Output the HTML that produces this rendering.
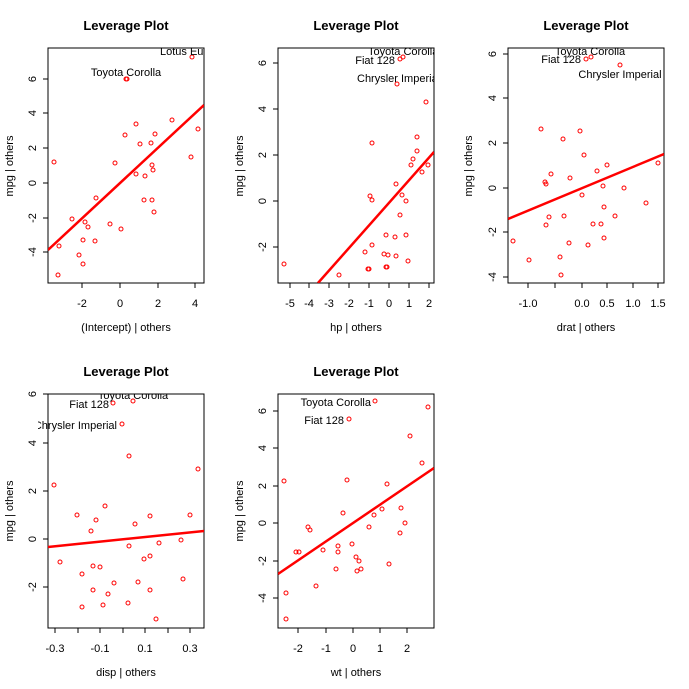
<!DOCTYPE html>
<html><head><meta charset="utf-8"><style>
html,body{margin:0;padding:0;background:#fff}
svg{display:block}
text{font-family:"Liberation Sans",Arial,sans-serif;fill:#000}
.t{font-size:13px;font-weight:bold;text-anchor:middle}
.tk{font-size:11px;text-anchor:middle}
.lb{font-size:11px}
.ax{font-size:11px;text-anchor:middle}
circle{fill:none;stroke:#f00;stroke-width:1}
.ln{stroke:#f00;stroke-width:2.5}
.bx{fill:none;stroke:#000;stroke-width:1}
.tm{stroke:#000;stroke-width:1}
</style></head><body>
<svg width="689" height="689" viewBox="0 0 689 689" xmlns="http://www.w3.org/2000/svg">
<defs>
<clipPath id="c1"><rect x="48" y="48" width="156" height="235"/></clipPath>
<clipPath id="c2"><rect x="278" y="48" width="156" height="235"/></clipPath>
<clipPath id="c3"><rect x="508" y="48" width="156" height="235"/></clipPath>
<clipPath id="c4"><rect x="38" y="394" width="166" height="234"/></clipPath>
<clipPath id="c5"><rect x="278" y="394" width="156" height="234"/></clipPath>
</defs>

<!-- Panel 1 -->
<text class="t" x="126" y="30">Leverage Plot</text>
<rect class="bx" x="48" y="48" width="156" height="235"/>
<g class="tm"><line x1="82" y1="283" x2="82" y2="288"/><line x1="120" y1="283" x2="120" y2="288"/><line x1="158" y1="283" x2="158" y2="288"/><line x1="195" y1="283" x2="195" y2="288"/>
<line x1="43" y1="79" x2="48" y2="79"/><line x1="43" y1="113" x2="48" y2="113"/><line x1="43" y1="148" x2="48" y2="148"/><line x1="43" y1="183" x2="48" y2="183"/><line x1="43" y1="218" x2="48" y2="218"/><line x1="43" y1="252" x2="48" y2="252"/></g>
<text class="tk" x="82" y="307">-2</text><text class="tk" x="120" y="307">0</text><text class="tk" x="158" y="307">2</text><text class="tk" x="195" y="307">4</text>
<g class="tk"><text transform="translate(36,79) rotate(-90)">6</text><text transform="translate(36,113) rotate(-90)">4</text><text transform="translate(36,148) rotate(-90)">2</text><text transform="translate(36,183) rotate(-90)">0</text><text transform="translate(36,218) rotate(-90)">-2</text><text transform="translate(36,252) rotate(-90)">-4</text></g>
<text class="ax" x="126" y="331">(Intercept) | others</text>
<text class="ax" transform="translate(13,166) rotate(-90)">mpg  | others</text>
<g clip-path="url(#c1)">
<line class="ln" x1="48" y1="250" x2="204" y2="105"/>
<circle cx="126" cy="79" r="2"/><circle cx="127" cy="79" r="2"/><circle cx="192" cy="57" r="2"/><circle cx="172" cy="120" r="2"/><circle cx="136" cy="124" r="2"/><circle cx="155" cy="134" r="2"/><circle cx="125" cy="135" r="2"/><circle cx="140" cy="144" r="2"/><circle cx="151" cy="143" r="2"/><circle cx="198" cy="129" r="2"/><circle cx="54" cy="162" r="2"/><circle cx="115" cy="163" r="2"/><circle cx="191" cy="157" r="2"/><circle cx="152" cy="165" r="2"/><circle cx="153" cy="170" r="2"/><circle cx="136" cy="174" r="2"/><circle cx="145" cy="176" r="2"/><circle cx="96" cy="198" r="2"/><circle cx="144" cy="200" r="2"/><circle cx="152" cy="200" r="2"/><circle cx="154" cy="212" r="2"/><circle cx="72" cy="219" r="2"/><circle cx="85" cy="222" r="2"/><circle cx="88" cy="227" r="2"/><circle cx="110" cy="224" r="2"/><circle cx="121" cy="229" r="2"/><circle cx="83" cy="240" r="2"/><circle cx="95" cy="241" r="2"/><circle cx="59" cy="246" r="2"/><circle cx="79" cy="255" r="2"/><circle cx="83" cy="264" r="2"/><circle cx="58" cy="275" r="2"/>
<text class="lb" x="160" y="55">Lotus Europa</text>
</g>
<text class="lb" x="126" y="76" text-anchor="middle">Toyota Corolla</text>

<!-- Panel 2 -->
<text class="t" x="356" y="30">Leverage Plot</text>
<rect class="bx" x="278" y="48" width="156" height="235"/>
<g class="tm"><line x1="290" y1="283" x2="290" y2="288"/><line x1="309" y1="283" x2="309" y2="288"/><line x1="329" y1="283" x2="329" y2="288"/><line x1="349" y1="283" x2="349" y2="288"/><line x1="369" y1="283" x2="369" y2="288"/><line x1="389" y1="283" x2="389" y2="288"/><line x1="409" y1="283" x2="409" y2="288"/><line x1="429" y1="283" x2="429" y2="288"/>
<line x1="273" y1="63" x2="278" y2="63"/><line x1="273" y1="109" x2="278" y2="109"/><line x1="273" y1="155" x2="278" y2="155"/><line x1="273" y1="201" x2="278" y2="201"/><line x1="273" y1="247" x2="278" y2="247"/></g>
<text class="tk" x="290" y="307">-5</text><text class="tk" x="309" y="307">-4</text><text class="tk" x="329" y="307">-3</text><text class="tk" x="349" y="307">-2</text><text class="tk" x="369" y="307">-1</text><text class="tk" x="389" y="307">0</text><text class="tk" x="409" y="307">1</text><text class="tk" x="429" y="307">2</text>
<g class="tk"><text transform="translate(266,63) rotate(-90)">6</text><text transform="translate(266,109) rotate(-90)">4</text><text transform="translate(266,155) rotate(-90)">2</text><text transform="translate(266,201) rotate(-90)">0</text><text transform="translate(266,247) rotate(-90)">-2</text></g>
<text class="ax" x="356" y="331">hp | others</text>
<text class="ax" transform="translate(243,166) rotate(-90)">mpg  | others</text>
<g clip-path="url(#c2)">
<line class="ln" x1="318" y1="283" x2="434" y2="152"/>
<circle cx="400" cy="59" r="2"/><circle cx="403" cy="57" r="2"/><circle cx="397" cy="84" r="2"/><circle cx="426" cy="102" r="2"/><circle cx="417" cy="137" r="2"/><circle cx="372" cy="143" r="2"/><circle cx="417" cy="151" r="2"/><circle cx="413" cy="159" r="2"/><circle cx="411" cy="165" r="2"/><circle cx="428" cy="165" r="2"/><circle cx="422" cy="172" r="2"/><circle cx="396" cy="184" r="2"/><circle cx="370" cy="196" r="2"/><circle cx="372" cy="200" r="2"/><circle cx="402" cy="195" r="2"/><circle cx="406" cy="201" r="2"/><circle cx="400" cy="215" r="2"/><circle cx="386" cy="235" r="2"/><circle cx="406" cy="235" r="2"/><circle cx="395" cy="237" r="2"/><circle cx="372" cy="245" r="2"/><circle cx="365" cy="252" r="2"/><circle cx="384" cy="254" r="2"/><circle cx="388" cy="255" r="2"/><circle cx="396" cy="256" r="2"/><circle cx="408" cy="261" r="2"/><circle cx="386" cy="267" r="2"/><circle cx="387" cy="267" r="2"/><circle cx="368" cy="269" r="2"/><circle cx="369" cy="269" r="2"/><circle cx="284" cy="264" r="2"/><circle cx="339" cy="275" r="2"/>
<text class="lb" x="368" y="55">Toyota Corolla</text>
<text class="lb" x="357" y="82">Chrysler Imperial</text>
</g>
<text class="lb" x="395" y="64" text-anchor="end">Fiat 128</text>

<!-- Panel 3 -->
<text class="t" x="586" y="30">Leverage Plot</text>
<rect class="bx" x="508" y="48" width="156" height="235"/>
<g class="tm"><line x1="528" y1="283" x2="528" y2="288"/><line x1="555" y1="283" x2="555" y2="288"/><line x1="582" y1="283" x2="582" y2="288"/><line x1="607" y1="283" x2="607" y2="288"/><line x1="633" y1="283" x2="633" y2="288"/><line x1="658" y1="283" x2="658" y2="288"/>
<line x1="503" y1="54" x2="508" y2="54"/><line x1="503" y1="98" x2="508" y2="98"/><line x1="503" y1="143" x2="508" y2="143"/><line x1="503" y1="188" x2="508" y2="188"/><line x1="503" y1="232" x2="508" y2="232"/><line x1="503" y1="277" x2="508" y2="277"/></g>
<text class="tk" x="528" y="307">-1.0</text><text class="tk" x="582" y="307">0.0</text><text class="tk" x="607" y="307">0.5</text><text class="tk" x="633" y="307">1.0</text><text class="tk" x="658" y="307">1.5</text>
<g class="tk"><text transform="translate(496,54) rotate(-90)">6</text><text transform="translate(496,98) rotate(-90)">4</text><text transform="translate(496,143) rotate(-90)">2</text><text transform="translate(496,188) rotate(-90)">0</text><text transform="translate(496,232) rotate(-90)">-2</text><text transform="translate(496,277) rotate(-90)">-4</text></g>
<text class="ax" x="586" y="331">drat | others</text>
<text class="ax" transform="translate(472,166) rotate(-90)">mpg  | others</text>
<g clip-path="url(#c3)">
<line class="ln" x1="508" y1="219" x2="664" y2="154"/>
<circle cx="586" cy="59" r="2"/><circle cx="591" cy="57" r="2"/><circle cx="620" cy="65" r="2"/><circle cx="541" cy="129" r="2"/><circle cx="580" cy="131" r="2"/><circle cx="563" cy="139" r="2"/><circle cx="584" cy="155" r="2"/><circle cx="607" cy="165" r="2"/><circle cx="658" cy="163" r="2"/><circle cx="597" cy="171" r="2"/><circle cx="551" cy="174" r="2"/><circle cx="570" cy="178" r="2"/><circle cx="545" cy="182" r="2"/><circle cx="546" cy="184" r="2"/><circle cx="603" cy="186" r="2"/><circle cx="624" cy="188" r="2"/><circle cx="582" cy="195" r="2"/><circle cx="646" cy="203" r="2"/><circle cx="604" cy="207" r="2"/><circle cx="549" cy="217" r="2"/><circle cx="564" cy="216" r="2"/><circle cx="615" cy="216" r="2"/><circle cx="546" cy="225" r="2"/><circle cx="593" cy="224" r="2"/><circle cx="601" cy="224" r="2"/><circle cx="604" cy="238" r="2"/><circle cx="513" cy="241" r="2"/><circle cx="569" cy="243" r="2"/><circle cx="588" cy="245" r="2"/><circle cx="560" cy="257" r="2"/><circle cx="529" cy="260" r="2"/><circle cx="561" cy="275" r="2"/>
<text class="lb" x="590" y="55" text-anchor="middle">Toyota Corolla</text>
</g>
<text class="lb" x="581" y="63" text-anchor="end">Fiat 128</text>
<text class="lb" x="620" y="78" text-anchor="middle">Chrysler Imperial</text>

<!-- Panel 4 -->
<text class="t" x="126" y="376">Leverage Plot</text>
<rect class="bx" x="48" y="394" width="156" height="234"/>
<g class="tm"><line x1="55" y1="628" x2="55" y2="633"/><line x1="78" y1="628" x2="78" y2="633"/><line x1="100" y1="628" x2="100" y2="633"/><line x1="123" y1="628" x2="123" y2="633"/><line x1="145" y1="628" x2="145" y2="633"/><line x1="168" y1="628" x2="168" y2="633"/><line x1="190" y1="628" x2="190" y2="633"/>
<line x1="43" y1="394" x2="48" y2="394"/><line x1="43" y1="443" x2="48" y2="443"/><line x1="43" y1="491" x2="48" y2="491"/><line x1="43" y1="539" x2="48" y2="539"/><line x1="43" y1="587" x2="48" y2="587"/></g>
<text class="tk" x="55" y="652">-0.3</text><text class="tk" x="100" y="652">-0.1</text><text class="tk" x="145" y="652">0.1</text><text class="tk" x="190" y="652">0.3</text>
<g class="tk"><text transform="translate(36,394) rotate(-90)">6</text><text transform="translate(36,443) rotate(-90)">4</text><text transform="translate(36,491) rotate(-90)">2</text><text transform="translate(36,539) rotate(-90)">0</text><text transform="translate(36,587) rotate(-90)">-2</text></g>
<text class="ax" x="126" y="676">disp | others</text>
<text class="ax" transform="translate(13,511) rotate(-90)">mpg  | others</text>
<g clip-path="url(#c1)"></g>
<g clip-path="url(#c4)">
<line class="ln" x1="48" y1="547" x2="204" y2="531"/>
<circle cx="113" cy="403" r="2"/><circle cx="133" cy="401" r="2"/><circle cx="122" cy="424" r="2"/><circle cx="129" cy="456" r="2"/><circle cx="198" cy="469" r="2"/><circle cx="54" cy="485" r="2"/><circle cx="105" cy="506" r="2"/><circle cx="77" cy="515" r="2"/><circle cx="190" cy="515" r="2"/><circle cx="150" cy="516" r="2"/><circle cx="96" cy="520" r="2"/><circle cx="135" cy="524" r="2"/><circle cx="91" cy="531" r="2"/><circle cx="181" cy="540" r="2"/><circle cx="159" cy="543" r="2"/><circle cx="129" cy="546" r="2"/><circle cx="150" cy="556" r="2"/><circle cx="144" cy="559" r="2"/><circle cx="60" cy="562" r="2"/><circle cx="93" cy="566" r="2"/><circle cx="100" cy="567" r="2"/><circle cx="82" cy="574" r="2"/><circle cx="183" cy="579" r="2"/><circle cx="114" cy="583" r="2"/><circle cx="138" cy="582" r="2"/><circle cx="93" cy="590" r="2"/><circle cx="150" cy="590" r="2"/><circle cx="108" cy="594" r="2"/><circle cx="128" cy="603" r="2"/><circle cx="103" cy="605" r="2"/><circle cx="82" cy="607" r="2"/><circle cx="156" cy="619" r="2"/>
<text class="lb" x="133" y="399" text-anchor="middle">Toyota Corolla</text>
<text class="lb" x="117" y="429" text-anchor="end">Chrysler Imperial</text>
</g>
<text class="lb" x="109" y="408" text-anchor="end">Fiat 128</text>

<!-- Panel 5 -->
<text class="t" x="356" y="376">Leverage Plot</text>
<rect class="bx" x="278" y="394" width="156" height="234"/>
<g class="tm"><line x1="298" y1="628" x2="298" y2="633"/><line x1="326" y1="628" x2="326" y2="633"/><line x1="353" y1="628" x2="353" y2="633"/><line x1="380" y1="628" x2="380" y2="633"/><line x1="407" y1="628" x2="407" y2="633"/>
<line x1="273" y1="411" x2="278" y2="411"/><line x1="273" y1="448" x2="278" y2="448"/><line x1="273" y1="486" x2="278" y2="486"/><line x1="273" y1="523" x2="278" y2="523"/><line x1="273" y1="561" x2="278" y2="561"/><line x1="273" y1="598" x2="278" y2="598"/></g>
<text class="tk" x="298" y="652">-2</text><text class="tk" x="326" y="652">-1</text><text class="tk" x="353" y="652">0</text><text class="tk" x="380" y="652">1</text><text class="tk" x="407" y="652">2</text>
<g class="tk"><text transform="translate(266,411) rotate(-90)">6</text><text transform="translate(266,448) rotate(-90)">4</text><text transform="translate(266,486) rotate(-90)">2</text><text transform="translate(266,523) rotate(-90)">0</text><text transform="translate(266,561) rotate(-90)">-2</text><text transform="translate(266,598) rotate(-90)">-4</text></g>
<text class="ax" x="356" y="676">wt | others</text>
<text class="ax" transform="translate(243,511) rotate(-90)">mpg  | others</text>
<g clip-path="url(#c5)">
<line class="ln" x1="278" y1="574" x2="434" y2="468"/>
<circle cx="375" cy="401" r="2"/><circle cx="428" cy="407" r="2"/><circle cx="349" cy="419" r="2"/><circle cx="410" cy="436" r="2"/><circle cx="422" cy="463" r="2"/><circle cx="284" cy="481" r="2"/><circle cx="347" cy="480" r="2"/><circle cx="387" cy="484" r="2"/><circle cx="343" cy="513" r="2"/><circle cx="382" cy="509" r="2"/><circle cx="401" cy="508" r="2"/><circle cx="374" cy="515" r="2"/><circle cx="405" cy="523" r="2"/><circle cx="308" cy="527" r="2"/><circle cx="310" cy="530" r="2"/><circle cx="369" cy="527" r="2"/><circle cx="400" cy="533" r="2"/><circle cx="352" cy="544" r="2"/><circle cx="338" cy="546" r="2"/><circle cx="296" cy="552" r="2"/><circle cx="299" cy="552" r="2"/><circle cx="323" cy="550" r="2"/><circle cx="338" cy="552" r="2"/><circle cx="356" cy="557" r="2"/><circle cx="359" cy="561" r="2"/><circle cx="389" cy="564" r="2"/><circle cx="336" cy="569" r="2"/><circle cx="361" cy="569" r="2"/><circle cx="357" cy="571" r="2"/><circle cx="316" cy="586" r="2"/><circle cx="286" cy="593" r="2"/><circle cx="286" cy="619" r="2"/>
</g>
<text class="lb" x="371" y="406" text-anchor="end">Toyota Corolla</text>
<text class="lb" x="344" y="424" text-anchor="end">Fiat 128</text>
</svg>
</body></html>
